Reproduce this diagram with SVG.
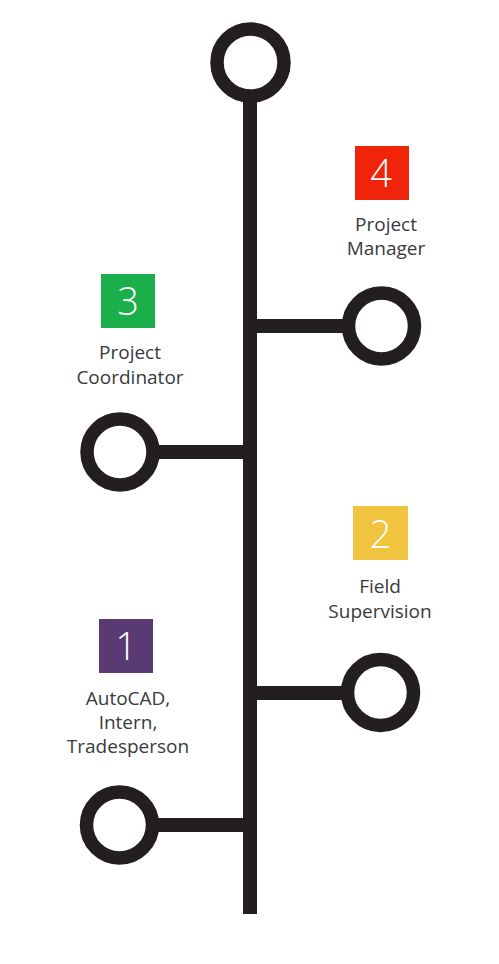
<svg xmlns="http://www.w3.org/2000/svg" width="499" height="964" viewBox="0 0 499 964">
<style>
.ring{fill:#fff;stroke:#231f20;stroke-width:13.5}
.bar{stroke:#231f20;stroke-width:14;fill:none}
.num{font-family:"Open Sans","Noto Sans",sans-serif;font-size:38px;font-weight:300;fill:#fff;text-anchor:middle}
.lbl{font-family:"Open Sans","Noto Sans",sans-serif;font-size:19px;fill:#3a3a3c;text-anchor:middle}
</style>
<rect width="499" height="964" fill="#fff"/>
<g id="connectors">
<line class="bar" x1="250" y1="90" x2="250" y2="914"/>
<line class="bar" x1="250" y1="326" x2="350" y2="326"/>
<line class="bar" x1="150" y1="452" x2="250" y2="452"/>
<line class="bar" x1="250" y1="693" x2="350" y2="693"/>
<line class="bar" x1="150" y1="825" x2="250" y2="825"/>
</g>
<g id="top"><circle class="ring" cx="250.5" cy="62.5" r="33.5"/></g>
<g id="step4">
<circle class="ring" cx="381.5" cy="326" r="33"/>
<rect x="355" y="146" width="54" height="54" fill="#f0240a"/>
<text class="num" x="381" y="187">4</text>
<text class="lbl" x="386" y="231">Project</text>
<text class="lbl" x="386" y="255">Manager</text>
</g>
<g id="step3">
<circle class="ring" cx="120" cy="452" r="33"/>
<rect x="101" y="274" width="54" height="54" fill="#1aaf4b"/>
<text class="num" x="128" y="315">3</text>
<text class="lbl" x="130" y="359">Project</text>
<text class="lbl" x="130" y="384">Coordinator</text>
</g>
<g id="step2">
<circle class="ring" cx="380.5" cy="692.5" r="33"/>
<rect x="353" y="506" width="55" height="54" fill="#f0c43e"/>
<text class="num" x="380.5" y="548">2</text>
<text class="lbl" x="380" y="593">Field</text>
<text class="lbl" x="380" y="618">Supervision</text>
</g>
<g id="step1">
<circle class="ring" cx="119.5" cy="825" r="33"/>
<rect x="99" y="619" width="54" height="54" fill="#5a3a73"/>
<text class="num" x="126" y="660">1</text>
<text class="lbl" x="128" y="705">AutoCAD,</text>
<text class="lbl" x="128" y="729">Intern,</text>
<text class="lbl" x="128" y="753">Tradesperson</text>
</g>
</svg>
